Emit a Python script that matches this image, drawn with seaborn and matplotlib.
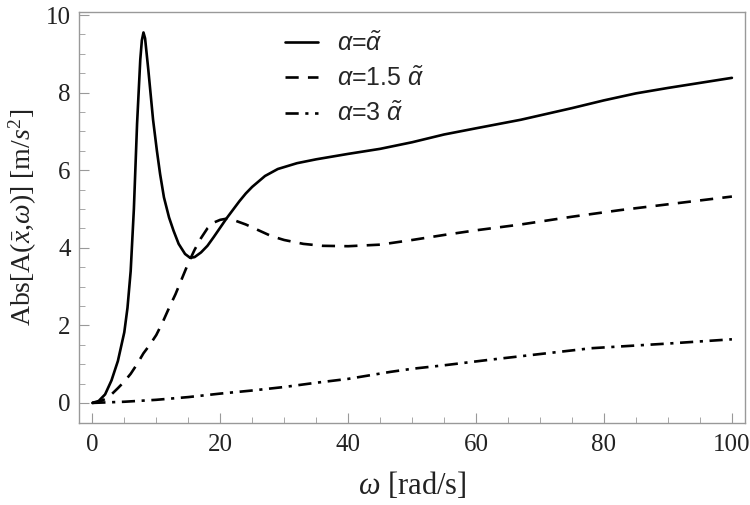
import numpy as np
import pandas as pd
import matplotlib
matplotlib.use("Agg")
import matplotlib.pyplot as plt
import seaborn as sns

# ---- data ----
x_a1 = [0, 1, 2, 3, 4, 5, 5.5, 6, 6.5, 7, 7.5, 7.75, 8, 8.25, 8.75, 9.5, 10.1, 10.6, 11.2, 12,
        12.7, 13.5, 14.5, 15.3, 16, 17, 18, 19, 20, 21, 22, 23, 24, 25, 27, 29, 32, 35,
        40, 45, 50, 55, 60, 67, 75, 80, 85, 90, 95, 100]
y_a1 = [0, 0.05, 0.22, 0.58, 1.08, 1.82, 2.45, 3.4, 5.0, 7.2, 8.85, 9.35, 9.55, 9.4, 8.6, 7.3,
        6.5, 5.9, 5.3, 4.78, 4.44, 4.1, 3.84, 3.74, 3.76, 3.88, 4.05, 4.28, 4.52, 4.76, 4.98,
        5.2, 5.4, 5.57, 5.85, 6.03, 6.18, 6.28, 6.42, 6.55, 6.72, 6.92, 7.08, 7.3, 7.6,
        7.8, 7.98, 8.12, 8.25, 8.38]

x_a15 = [0, 1, 2, 3, 4, 5, 6, 7, 8, 9, 10, 11, 12, 13, 14, 15, 16, 17, 18, 19, 20, 21,
         22, 24, 26, 28, 30, 33, 36, 40, 45, 50, 55, 60, 67, 75, 82.5, 90, 100]
y_a15 = [0, 0.02, 0.1, 0.22, 0.38, 0.55, 0.75, 1.0, 1.28, 1.5, 1.75, 2.08, 2.45, 2.8,
         3.2, 3.6, 3.95, 4.25, 4.5, 4.65, 4.72, 4.75, 4.72, 4.6, 4.45, 4.3, 4.2, 4.1,
         4.05, 4.04, 4.08, 4.2, 4.33, 4.45, 4.6, 4.8, 4.97, 5.12, 5.32]

x_a3 = [0, 5, 10, 15, 20, 25, 30, 35, 40, 46.6, 50, 55, 62, 70, 78, 85, 90, 100]
y_a3 = [0, 0.03, 0.08, 0.15, 0.24, 0.32, 0.41, 0.52, 0.62, 0.8, 0.88, 0.97, 1.11, 1.26,
        1.41, 1.48, 1.53, 1.64]

labels = [r'$\mathsf{\alpha}$=$\mathsf{\tilde{\alpha}}$',
          r'$\mathsf{\alpha}$=1.5 $\mathsf{\tilde{\alpha}}$',
          r'$\mathsf{\alpha}$=3 $\mathsf{\tilde{\alpha}}$']
x_ticks = [0, 20, 40, 60, 80, 100]
y_ticks = [0, 2, 4, 6, 8, 10]

# ---- style ----
sns.set_style("ticks")
plt.rcParams['font.family'] = ['Liberation Serif', 'DejaVu Sans']
plt.rcParams['mathtext.fontset'] = 'custom'
plt.rcParams['mathtext.rm'] = 'Liberation Serif'
plt.rcParams['mathtext.it'] = 'Liberation Serif:italic'
plt.rcParams['mathtext.sf'] = 'Liberation Sans:italic'

fig = plt.figure(figsize=(7.5, 5.05), dpi=100)
ax = fig.add_axes([79/750, 1-422.7/505, (744.7-79)/750, (422.7-12.3)/505])

series = [(x_a1, y_a1, labels[0], None),
          (x_a15, y_a15, labels[1], (5, 3.5)),
          (x_a3, y_a3, labels[2], (5, 2.5, 1.2, 2.5))]
for xs, ys, lab, dash in series:
    df = pd.DataFrame({"w": xs, "A": ys})
    kw = {}
    if dash is not None:
        kw["dashes"] = dash
    sns.lineplot(data=df, x="w", y="A", ax=ax, color="black", linewidth=1.9,
                 label=lab, estimator=None, sort=False, **kw)

ax.set_xlim(-2.08, 102.0)
ax.set_ylim(-0.51, 10.07)
ax.set_xticks(x_ticks)
ax.set_yticks(y_ticks)
ax.set_xticks(np.arange(0, 101, 5), minor=True)
ax.set_yticks(np.arange(0, 10.01, 0.5), minor=True)
ax.tick_params(which='both', direction='in', color='#999999', labelsize=18,
               labelcolor='#222222')
ax.tick_params(which='major', length=7, width=0.8)
ax.tick_params(which='minor', length=4, width=0.6)
ax.tick_params(axis='x', pad=8)
ax.tick_params(axis='y', pad=6)
for sp in ax.spines.values():
    sp.set_color('#999999')
    sp.set_linewidth(1.0)

ax.set_xlabel(r'$\omega$ [rad/s]', fontsize=22, color='#222222', labelpad=10)
ax.set_ylabel(r'Abs[A($\bar{x}$,$\omega$)] [m/$s^2$]', fontsize=20, color='#222222',
              labelpad=5)

leg = ax.legend(loc='upper left', bbox_to_anchor=(0.275, 1.008), frameon=False,
                prop={'family': 'Liberation Sans', 'size': 18}, handlelength=1.35,
                handletextpad=0.75, labelspacing=0.45)

fig.savefig("out.png", dpi=100)
